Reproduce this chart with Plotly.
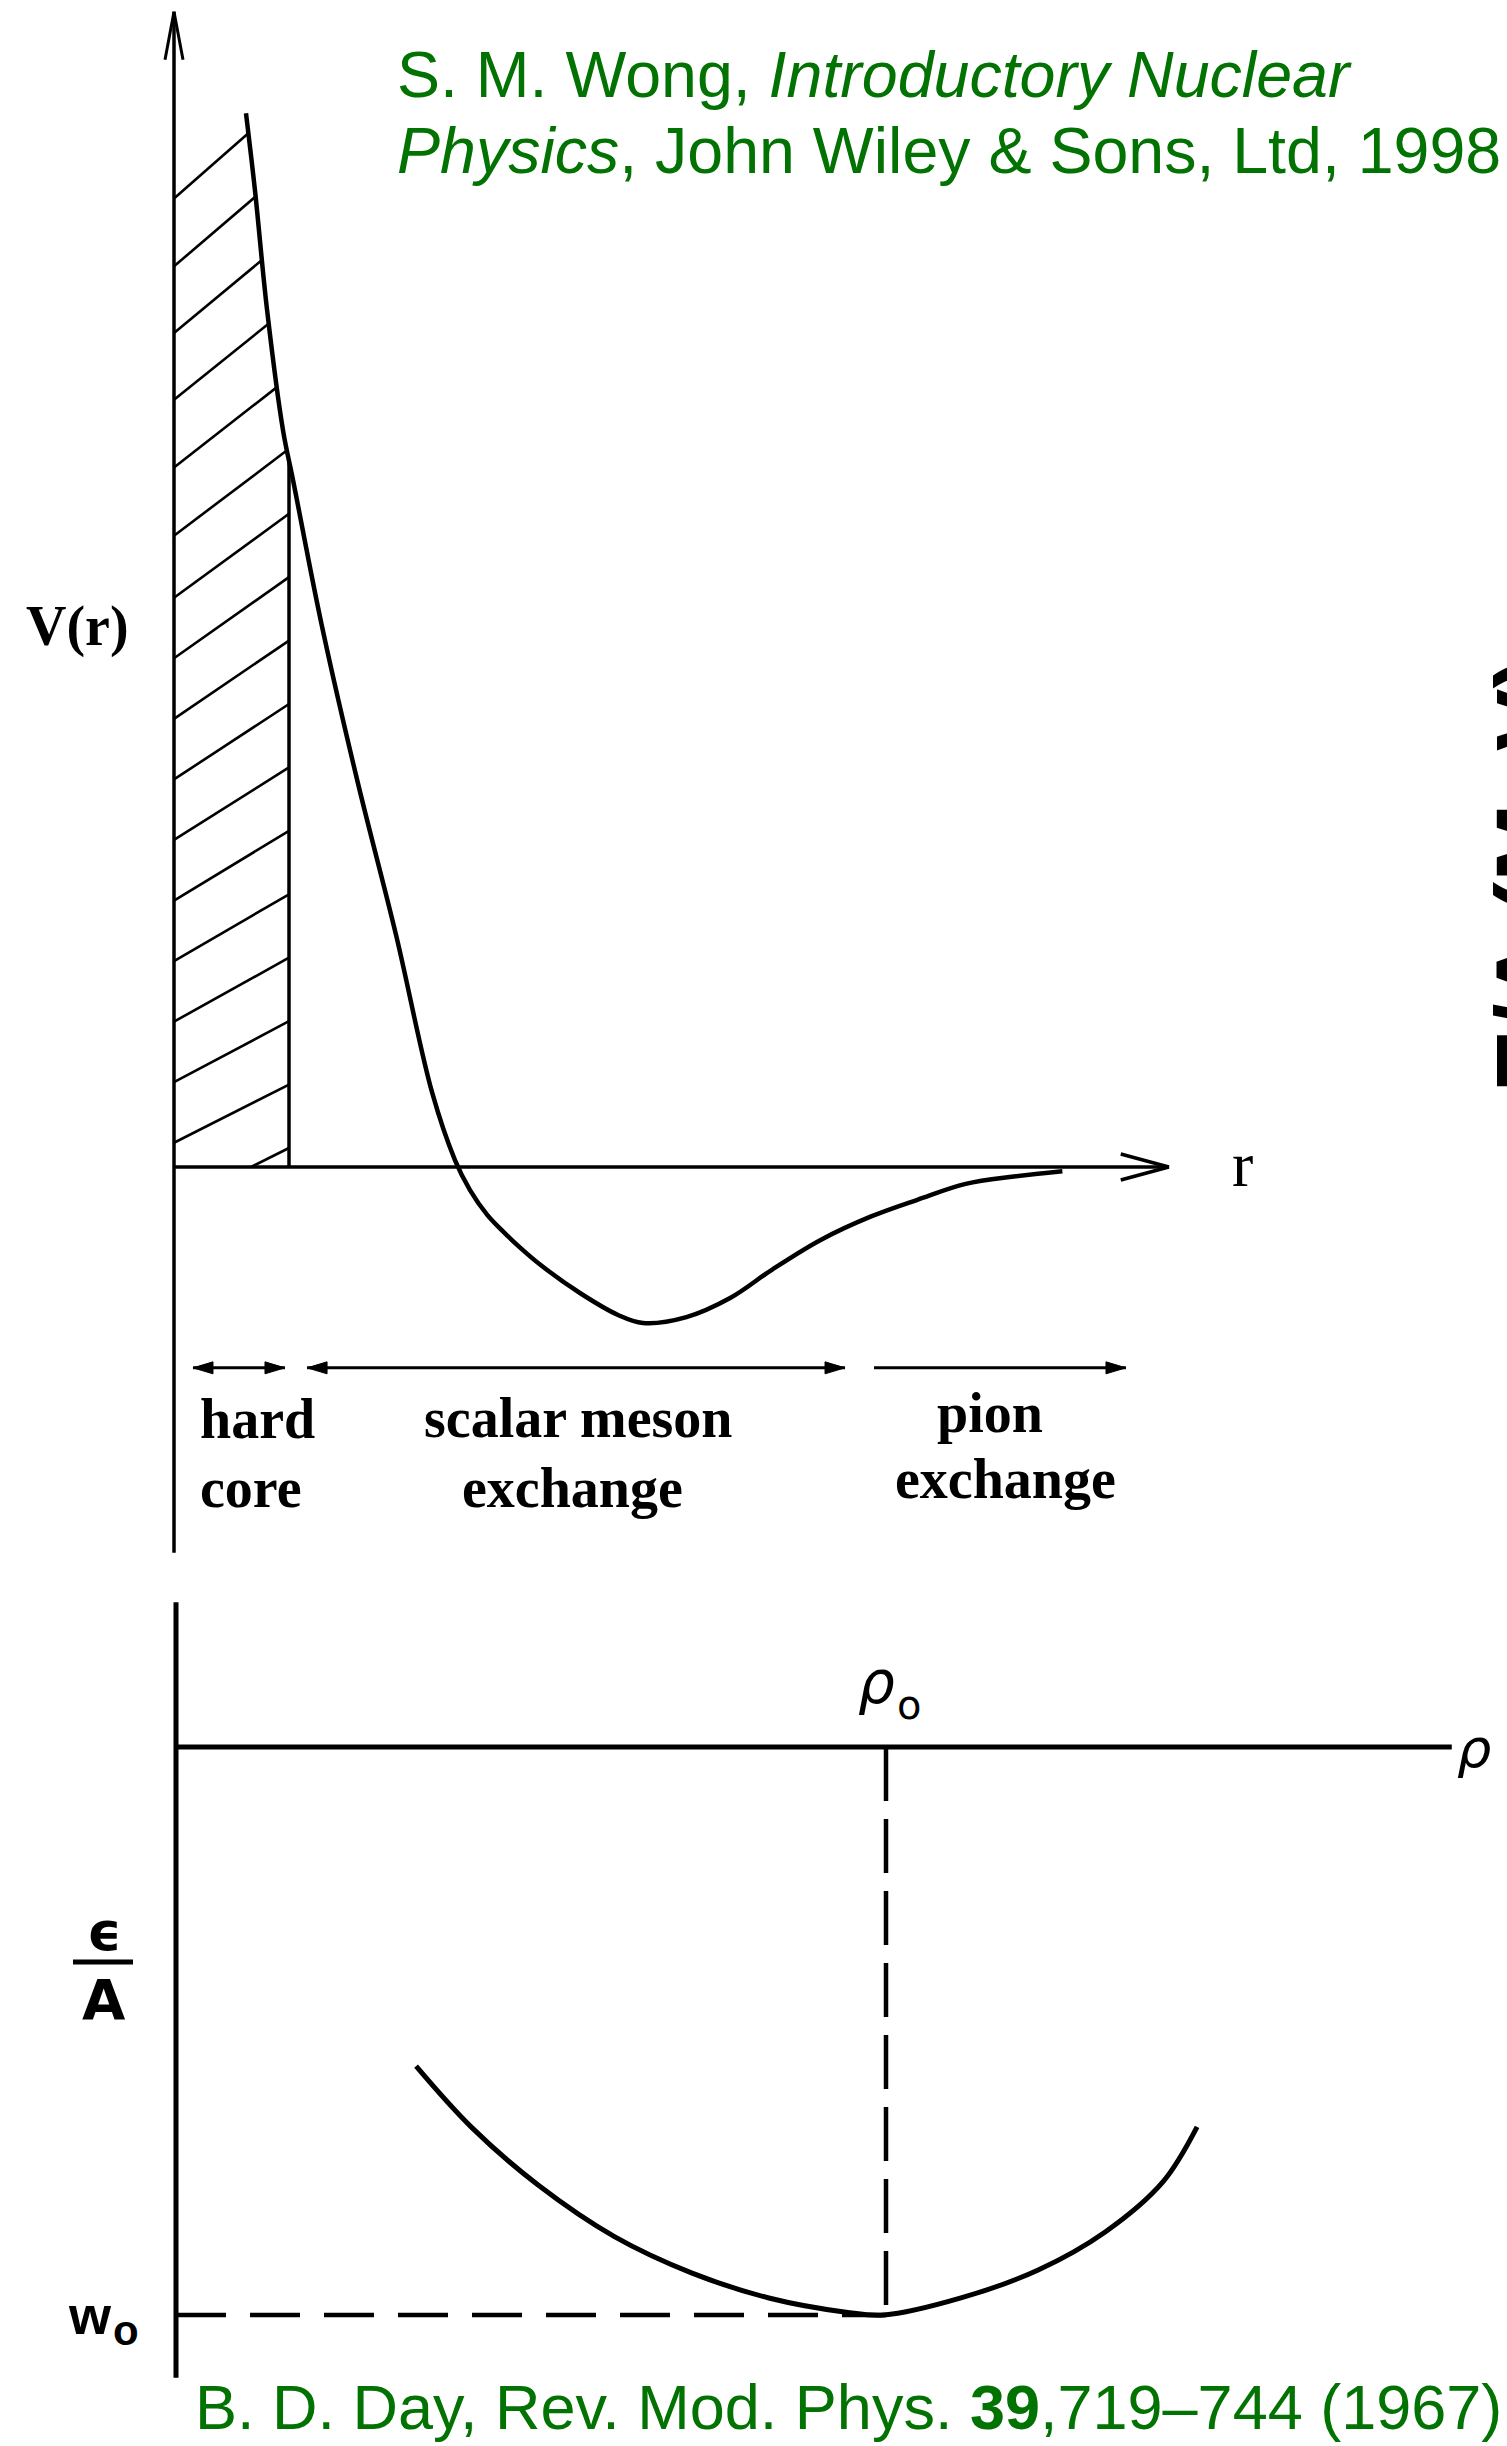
import numpy as np
import plotly.graph_objects as go

W, H = 1507, 2446

# ---------------- top panel: nucleon-nucleon potential (arbitrary units) ----------------
r_pot = [0.626, 0.704, 0.809, 0.948, 1.035, 1.282, 1.593, 1.932, 2.243, 2.443, 2.574,
         2.722, 2.852, 3.017, 3.191, 3.530, 3.861, 4.078, 4.456, 4.836, 5.202, 5.623,
         6.057, 6.464, 6.884, 7.304, 7.725]
V_pot = [9.97, 9.24, 8.11, 6.97, 6.50, 5.14, 3.66, 2.19, 0.71, 0.066, -0.218,
         -0.45, -0.60, -0.77, -0.93, -1.192, -1.400, -1.476, -1.42, -1.24, -0.97, -0.69,
         -0.47, -0.31, -0.16, -0.09, -0.04]
R_CORE = 1.0
R_AXIS_END = 8.65
V_AXIS_BOTTOM = -3.65
V_AXIS_TOP = 10.93

region_line1 = ["hard", "scalar meson", "pion"]
region_line2 = ["core", "exchange", "exchange"]
region_r0 = [0.165, 1.157, 6.087]
region_r1 = [0.965, 5.835, 8.278]
region_two_heads = [True, True, False]
V_REGION_ARROW = -1.90

# ---------------- bottom panel: energy per nucleon vs density ----------------
rho = [0.0541, 0.0665, 0.0816, 0.0989, 0.1163, 0.1336, 0.1510, 0.1595, 0.1769,
       0.1943, 0.2094, 0.2224, 0.2301]
e_per_A = [-8.99, -10.70, -12.34, -13.80, -14.82, -15.52, -15.92, -16.00, -15.52,
           -14.73, -13.66, -12.25, -10.70]
RHO0 = 0.16
W0 = -16.0
RHO_AXIS_END = 0.2875
E_AXIS_TOP = 4.08
E_AXIS_BOTTOM = -17.77

# ---------------- page scales (pixels per unit) ----------------
T_X0, T_SX, T_Y0, T_SY = 174.0, 115.0, 1167.0, 105.7
B_X0, B_SX, B_Y0, B_SY = 176.0, 4437.5, 1747.0, 35.5

GREEN = "#027202"
BLACK = "#000000"


def t_data(px, py):
    return (px - T_X0) / T_SX, (T_Y0 - py) / T_SY


def head_pts(tx, ty, ux, uy, L, Wd):
    bx, by = tx - L * ux, ty - L * uy
    nx, ny = -uy, ux
    return [(bx + Wd * nx, by + Wd * ny), (tx, ty), (bx - Wd * nx, by - Wd * ny)]


fig = go.Figure()


def line(x, y, width, axes="top", dash="solid", shape="linear", color=BLACK, fill=None):
    xa, ya = ("x", "y") if axes == "top" else ("x2", "y2")
    kw = {}
    if fill:
        kw = dict(fill="toself", fillcolor=color)
    fig.add_trace(go.Scatter(x=x, y=y, mode="lines", xaxis=xa, yaxis=ya,
                             line=dict(color=color, width=width, dash=dash, shape=shape,
                                       smoothing=1.0),
                             hoverinfo="skip", showlegend=False, **kw))


# ---- top panel ----
r_arr = np.array(r_pot)
V_arr = np.array(V_pot)
V_core_top = float(np.interp(R_CORE, r_arr, V_arr))

# hatching inside the hard core
px_cx = T_X0 + r_arr * T_SX
px_cy = T_Y0 - V_arr * T_SY
mask = r_arr <= 1.1
y_core_px = T_Y0 - V_core_top * T_SY
x_core_px = T_X0 + R_CORE * T_SX
hx, hy = [], []
for yr in np.linspace(px_cy[0] + 20, T_Y0 - 19, 17):
    if yr < y_core_px:
        xr = float(np.interp(yr, px_cy[mask], px_cx[mask]))
    else:
        xr = x_core_px
    slope = float(np.interp(yr, [133, 1100], [0.88, 0.5]))
    xl, yl = T_X0, yr + slope * (xr - T_X0)
    if yl > T_Y0:
        xl, yl = xr - (T_Y0 - yr) / slope, T_Y0
    a = t_data(xl, yl)
    b = t_data(xr, yr)
    hx += [a[0], b[0], None]
    hy += [a[1], b[1], None]
line(hx, hy, 2.6)

# axes
line([0, 0], [V_AXIS_BOTTOM, V_AXIS_TOP], 3.5)
line([0, R_AXIS_END], [0, 0], 3.5)
tip = (T_X0, T_Y0 - V_AXIS_TOP * T_SY)
pts = [t_data(*p) for p in head_pts(tip[0], tip[1], 0, -1, 48, 9)]
line([p[0] for p in pts], [p[1] for p in pts], 3)
tip = (T_X0 + R_AXIS_END * T_SX, T_Y0)
pts = [t_data(*p) for p in head_pts(tip[0], tip[1], 1, 0, 48, 13)]
line([p[0] for p in pts], [p[1] for p in pts], 3.5)

# hard-core wall and potential
line([R_CORE, R_CORE], [0, V_core_top], 3.5)
line(r_pot, V_pot, 4.5, shape="spline")

# region arrows
for r0, r1, two in zip(region_r0, region_r1, region_two_heads):
    line([r0, r1], [V_REGION_ARROW, V_REGION_ARROW], 3)
    y_px = T_Y0 - V_REGION_ARROW * T_SY
    heads = [(T_X0 + r1 * T_SX, 1)]
    if two:
        heads.append((T_X0 + r0 * T_SX, -1))
    for hxp, d in heads:
        pts = [t_data(*p) for p in head_pts(hxp, y_px, d, 0, 20, 6)]
        line([p[0] for p in pts] + [pts[0][0]], [p[1] for p in pts] + [pts[0][1]], 1,
             fill=True)

# ---- bottom panel ----
line([0, 0], [E_AXIS_BOTTOM, E_AXIS_TOP], 5, axes="bot")
line([0, RHO_AXIS_END], [0, 0], 5, axes="bot")
line([RHO0, RHO0], [0, W0], 4.5, axes="bot", dash="54px,18px")
line([0, RHO0], [W0, W0], 4.5, axes="bot", dash="50px,24px")
line(rho, e_per_A, 5, axes="bot", shape="spline")

# ---- text ----
ann = []


def text(t, px, py, size, family, color=BLACK, xanchor="center", angle=0, pad=1):
    ann.append(dict(text=t, x=px / W, y=1 - py / H, xref="paper", yref="paper",
                    xanchor=xanchor, yanchor="middle", showarrow=False, textangle=angle,
                    borderpad=pad, font=dict(size=size, family=family, color=color)))


SERIF = "Liberation Serif"
SANS = "Liberation Sans"
DJ = "DejaVu Sans"

text("S. M. Wong, <i>Introductory Nuclear</i>", 395, 75, 64.5, SANS, GREEN, "left")
text("<i>Physics</i>, John Wiley &amp; Sons, Ltd, 1998", 395, 151, 64.5, SANS, GREEN, "left")
text("B. D. Day, Rev. Mod. Phys. <b>39</b>,719\u2013744 (1967)", 193, 2407, 63, SANS, GREEN, "left")
text("<b>E/A (MeV)</b>", 1474, 875, 94, SANS, BLACK, "left", angle=-90)

text("<b>V(r)</b>", 77, 626, 56, SERIF)
text("r", 1242, 1164, 64, SERIF)

line1_px = [(198, 1419, "left"), (578, 1418, "center"), (990, 1413, "center")]
line2_px = [(198, 1488, "left"), (572, 1488, "center"), (1005, 1479, "center")]
for t1, t2, p1, p2 in zip(region_line1, region_line2, line1_px, line2_px):
    text("<b>%s</b>" % t1, p1[0], p1[1], 56, SERIF, xanchor=p1[2])
    text("<b>%s</b>" % t2, p2[0], p2[1], 56, SERIF, xanchor=p2[2])

# rho_0 label (symbol + subscript)
text("<i>\u03c1</i>", 896, 1683, 58, DJ, xanchor="right", pad=0)
text("o", 896, 1705, 40, DJ, xanchor="left", pad=0)
text("<i>\u03c1</i>", 1455, 1749, 54, DJ, xanchor="left")
text("<b>\u03f5</b>", 104, 1931, 54, DJ)
text("<b>A</b>", 104, 1999, 56, DJ)
# w_0 label (symbol + subscript)
text("<b>w</b>", 113, 2315, 54, SANS, xanchor="right", pad=0)
text("<b>o</b>", 112, 2330, 42, SANS, xanchor="left", pad=0)

shapes = [dict(type="line", xref="paper", yref="paper", x0=73 / W, x1=133 / W,
               y0=1 - 1962 / H, y1=1 - 1962 / H, line=dict(color=BLACK, width=5))]

ax_common = dict(visible=False, showgrid=False, zeroline=False, fixedrange=True, domain=[0, 1])
fig.update_layout(
    width=W, height=H,
    margin=dict(l=0, r=0, t=0, b=0, pad=0),
    paper_bgcolor="white", plot_bgcolor="rgba(0,0,0,0)",
    showlegend=False,
    xaxis=dict(range=[-T_X0 / T_SX, (W - T_X0) / T_SX], **ax_common),
    yaxis=dict(range=[(T_Y0 - H) / T_SY, T_Y0 / T_SY], **ax_common),
    xaxis2=dict(range=[-B_X0 / B_SX, (W - B_X0) / B_SX], anchor="y2", **ax_common),
    yaxis2=dict(range=[(B_Y0 - H) / B_SY, B_Y0 / B_SY], anchor="x2", **ax_common),
    annotations=ann,
    shapes=shapes,
)

fig.write_html("out.html")
